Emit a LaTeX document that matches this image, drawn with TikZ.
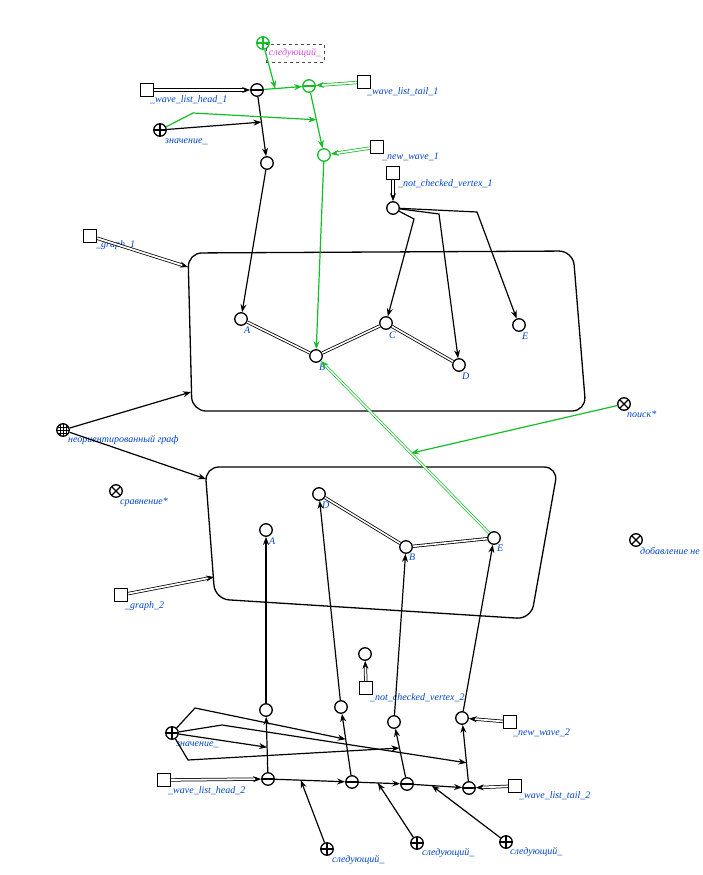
\documentclass[tikz,border=0pt]{standalone}
\usepackage{fontspec}
\setmainfont{Liberation Serif}
\usetikzlibrary{arrows.meta,calc}
\definecolor{grn}{RGB}{20,190,40}
\definecolor{lbl}{RGB}{0,70,200}
\definecolor{mag}{RGB}{215,80,225}
\tikzset{
  v/.style={circle,draw,line width=1.3pt,minimum size=12.5pt,inner sep=0pt,fill=white},
  vminus/.style={v,path picture={\draw[line width=1.1pt] (path picture bounding box.west) -- (path picture bounding box.east);}},
  vplus/.style={v,path picture={\draw[line width=1.1pt] (path picture bounding box.west) -- (path picture bounding box.east) (path picture bounding box.north) -- (path picture bounding box.south);}},
  vtimes/.style={v,path picture={\draw[line width=1.1pt] (path picture bounding box.north west) -- (path picture bounding box.south east) (path picture bounding box.north east) -- (path picture bounding box.south west);}},
  vgrid/.style={v,path picture={\draw[line width=0.5pt] ([xshift=-3pt]path picture bounding box.north) -- ([xshift=-3pt]path picture bounding box.south) (path picture bounding box.north) -- (path picture bounding box.south) ([xshift=3pt]path picture bounding box.north) -- ([xshift=3pt]path picture bounding box.south) ([yshift=-3pt]path picture bounding box.west) -- ([yshift=-3pt]path picture bounding box.east) (path picture bounding box.west) -- (path picture bounding box.east) ([yshift=3pt]path picture bounding box.west) -- ([yshift=3pt]path picture bounding box.east);}},
  sq/.style={draw,line width=1.3pt,minimum size=13pt,inner sep=0pt,fill=white},
  lab/.style={text=lbl,font=\itshape\fontsize{10}{10}\selectfont,inner sep=0pt,anchor=west},
  arr/.style={line width=1.2pt,-{Stealth[length=8pt,width=6pt]}},
  ln/.style={line width=1.2pt},
  dbl/.style={double distance=1.8pt,line width=0.75pt,-{Stealth[length=8pt,width=6pt]}},
  dline/.style={double distance=1.6pt,line width=0.8pt},
  gbox/.style={line width=1.3pt,rounded corners=14pt},
}
\begin{document}
\begin{tikzpicture}[x=1pt,y=-1pt]
\useasboundingbox[fill=white] (0,0) rectangle (703,875);

% ---------- graph boxes ----------
\draw[gbox] (188,253) -- (573,251) -- (586,411) -- (192,411) -- cycle;
\draw[gbox] (205,467) -- (558,467) -- (531,619) -- (215,599) -- cycle;
\coordinate (g1a) at (188,267);
\coordinate (g1b) at (191,392);
\coordinate (g2a) at (206,479);
\coordinate (g2b) at (214,577);

% ---------- graph 1 vertices ----------
\node[v] (A1) at (241,319) {};
\node[v] (B1) at (316,356) {};
\node[v] (C1) at (386,323) {};
\node[v] (D1) at (459,365) {};
\node[v] (E1) at (519,325) {};
\node[lab] (lA1) at (244,330) {A};
\node[lab] (lB1) at (319,367) {B};
\node[lab] (lC1) at (389,335) {C};
\node[lab] (lD1) at (462,376) {D};
\node[lab] (lE1) at (522,336) {E};
\draw[dline] (A1) -- (B1);
\draw[dline] (B1) -- (C1);
\draw[dline] (C1) -- (D1);

% ---------- graph 2 vertices ----------
\node[v] (D2) at (319,494) {};
\node[v] (A2) at (266,530) {};
\node[v] (B2) at (406,547) {};
\node[v] (E2) at (494,538) {};
\node[lab] (lD2) at (322,505) {D};
\node[lab] (lA2) at (269,541) {A};
\node[lab] (lB2) at (409,557) {B};
\node[lab] (lE2) at (497,548) {E};
\draw[dline] (D2) -- (B2);
\draw[dline] (B2) -- (E2);
\draw[dbl,draw=grn,line width=0.7pt,double distance=1.4pt] (E2) -- (B1);

% ---------- top section ----------
\node[sq] (h1sq) at (147,90) {};
\node[lab] (lh1) at (150,100) {\_wave\_list\_head\_1};
\node[vminus] (hm1) at (257,90) {};
\node[vminus,draw=grn] (gm) at (309,86) {};
\node[sq] (t1sq) at (364,82) {};
\node[lab] (lt1) at (367,92) {\_wave\_list\_tail\_1};
\node[vplus,draw=grn] (gp) at (263,43) {};
\node[draw=black!70,dashed,line width=0.7pt,text=mag,font=\itshape\fontsize{10}{10}\selectfont,inner sep=3pt,minimum height=18pt] (lgp) at (295,53) {следующий\_};
\node[vplus] (zp1) at (160,130) {};
\node[lab] (lzp1) at (165,142) {значение\_};
\node[v] (o1) at (267,163) {};
\node[v,draw=grn] (go) at (324,155) {};
\node[sq] (nw1sq) at (377,147) {};
\node[lab] (lnw1) at (382,157) {\_new\_wave\_1};
\node[sq] (nc1sq) at (393,173) {};
\node[lab] (lnc1) at (398,184) {\_not\_checked\_vertex\_1};
\node[v] (nc1) at (393,208) {};

\draw[dbl] (h1sq) -- (hm1);
\draw[dbl,draw=grn] (t1sq) -- (gm);
\draw[dbl,draw=grn] (nw1sq) -- (go);
\draw[dbl] (nc1sq) -- (nc1);
\draw[arr,draw=grn] (hm1) -- (gm);
\draw[arr] (hm1) -- (o1);
\draw[arr,draw=grn] (gm) -- (go);
\coordinate (e1) at ($(hm1)!0.35!(gm)$);
\draw[arr,draw=grn] (gp) -- (e1);
\coordinate (e2) at ($(hm1)!0.44!(o1)$);
\draw[arr] (zp1) -- (e2);
\coordinate (e3) at ($(gm)!0.49!(go)$);
\coordinate (k1) at (193,113);
\draw[arr,draw=grn] (zp1) -- (k1) -- (e3);
\draw[arr] (o1) -- (A1);
\draw[arr,draw=grn] (go) -- (B1);
\coordinate (k2) at (414,219);
\coordinate (k3) at (439,214);
\coordinate (k4) at (477,212);
\draw[arr] (nc1) -- (k2) -- (C1);
\draw[arr] (nc1) -- (k3) -- (D1);
\draw[arr] (nc1) -- (k4) -- (E1);

% ---------- left / right markers ----------
\node[sq] (gr1sq) at (90,236) {};
\node[lab] (lgr1) at (96,245) {\_graph\_1};
\draw[dbl] (gr1sq) -- (g1a);
\node[vgrid] (ug) at (63,430) {};
\node[lab] (lug) at (68,440) {неориентированный граф};
\draw[arr] (ug) -- (g1b);
\draw[arr] (ug) -- (g2a);
\node[vtimes] (cmp) at (116,491) {};
\node[lab] (lcmp) at (120,502) {сравнение*};
\node[vtimes] (srch) at (624,404) {};
\node[lab] (lsrch) at (627,414) {поиск*};
\coordinate (e4) at ($(E2)!0.466!(B1)$);
\draw[arr,draw=grn] (srch) -- (e4);
\node[vtimes] (add) at (636,540) {};
\node[lab] (ladd) at (640,551) {добавление не};
\node[sq] (gr2sq) at (121,595) {};
\node[lab] (lgr2) at (125,606) {\_graph\_2};
\draw[dbl] (gr2sq) -- (g2b);

% ---------- bottom section ----------
\node[v] (nc2) at (365,654) {};
\node[sq] (nc2sq) at (366,688) {};
\node[lab] (lnc2) at (370,698) {\_not\_checked\_vertex\_2};
\draw[dbl] (nc2sq) -- (nc2);
\node[v] (p1) at (266,710) {};
\node[v] (p2) at (341,707) {};
\node[v] (p3) at (394,722) {};
\node[v] (p4) at (462,718) {};
\node[vminus] (m1) at (268,779) {};
\node[vminus] (m2) at (352,782) {};
\node[vminus] (m3) at (407,784) {};
\node[vminus] (m4) at (469,788) {};
\node[sq] (h2sq) at (164,780) {};
\node[lab] (lh2) at (168,791) {\_wave\_list\_head\_2};
\node[sq] (nw2sq) at (510,722) {};
\node[lab] (lnw2) at (513,733) {\_new\_wave\_2};
\node[sq] (t2sq) at (515,786) {};
\node[lab] (lt2) at (519,796) {\_wave\_list\_tail\_2};
\node[vplus] (zp2) at (172,733) {};
\node[lab] (lzp2) at (176,745) {значение\_};
\node[vplus] (s1) at (327,849) {};
\node[lab] (ls1) at (332,860) {следующий\_};
\node[vplus] (s2) at (417,843) {};
\node[lab] (ls2) at (422,853) {следующий\_};
\node[vplus] (s3) at (506,842) {};
\node[lab] (ls3) at (510,852) {следующий\_};

\draw[arr] (m1) -- (p1);
\draw[arr] (m2) -- (p2);
\draw[arr] (m3) -- (p3);
\draw[arr] (m4) -- (p4);
\draw[arr] (p1) -- (A2);
\draw[arr] (p2) -- (D2);
\draw[arr] (p3) -- (B2);
\draw[arr] (p4) -- (E2);
\draw[arr] (m1) -- (m2);
\draw[arr] (m2) -- (m3);
\draw[arr] (m3) -- (m4);
\draw[dbl] (h2sq) -- (m1);
\draw[dbl] (t2sq) -- (m4);
\draw[dbl] (nw2sq) -- (p4);

\coordinate (f1) at ($(m1)!0.46!(p1)$);
\coordinate (f2) at ($(m2)!0.57!(p2)$);
\coordinate (f3) at ($(m3)!0.58!(p3)$);
\coordinate (f4) at ($(m4)!0.36!(p4)$);
\coordinate (q2) at (195,708);
\coordinate (q3) at (188,760);
\coordinate (q4) at (222,725);
\draw[arr] (zp2) -- (f1);
\draw[arr] (zp2) -- (q2) -- (f2);
\draw[arr] (zp2) -- (q3) -- (f3);
\draw[arr] (zp2) -- (q4) -- (f4);

\coordinate (n1) at ($(m1)!0.39!(m2)$);
\coordinate (n2) at ($(m2)!0.47!(m3)$);
\coordinate (n3) at ($(m3)!0.40!(m4)$);
\draw[arr] (s1) -- (n1);
\draw[arr] (s2) -- (n2);
\draw[arr] (s3) -- (n3);
\end{tikzpicture}
\end{document}
